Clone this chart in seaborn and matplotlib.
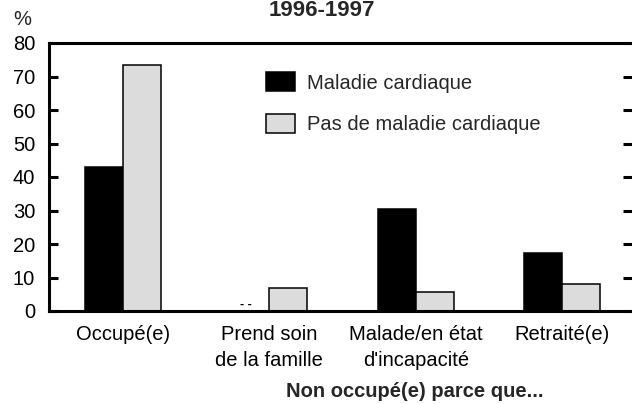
import numpy as np
import pandas as pd
import matplotlib
matplotlib.use("Agg")
import matplotlib.pyplot as plt
import seaborn as sns

# ---- data ----
categories = ["Occupé(e)", "Prend soin\nde la famille",
              "Malade/en état\nd'incapacité", "Retraité(e)"]
series_names = ["Maladie cardiaque", "Pas de maladie cardiaque"]
cardiac = [43.0, np.nan, 30.4, 17.3]
no_cardiac = [73.4, 6.9, 5.8, 8.0]
yticks = [0, 10, 20, 30, 40, 50, 60, 70, 80]
title = "1996-1997"
y_unit = "%"
x_title = "Non occupé(e) parce que..."
missing_mark = "- -"

# ---- style ----
sns.set_theme(style="white")
plt.rcParams['font.family'] = ['Liberation Sans', 'DejaVu Sans']
colors = ["black", "#dcdcdc"]
group_width = 0.52
fs = 14.5

df = pd.DataFrame({
    "cat": categories * 2,
    "series": [series_names[0]] * len(categories) + [series_names[1]] * len(categories),
    "value": cardiac + no_cardiac,
})

fig = plt.figure(figsize=(6.32, 4.04), dpi=100)
ax = fig.add_axes([49 / 632, 1 - 311 / 404, 583 / 632, 268 / 404])

sns.barplot(data=df, x="cat", y="value", hue="series", order=categories,
            hue_order=series_names, palette=colors, width=group_width,
            edgecolor="black", linewidth=1.1, saturation=1, errorbar=None, ax=ax)

ax.set_ylim(0, 80)
ax.set_xlim(-0.506, 3.478)
ax.set_yticks(yticks)
ax.set_ylabel("")
ax.set_xlabel("")

for s in ["top", "left", "bottom"]:
    ax.spines[s].set_linewidth(2.2)
    ax.spines[s].set_color("black")
ax.spines["right"].set_visible(False)

ax.tick_params(axis="y", direction="in", length=6.5, width=2.2, left=True,
               right=True, labelsize=fs, pad=10, colors="black")
ax.tick_params(axis="x", length=0, pad=10, labelsize=fs, colors="black")
for lbl in ax.get_xticklabels():
    lbl.set_linespacing(1.5)

# missing value mark
for i, v in enumerate(cardiac):
    if np.isnan(v):
        ax.text(i - group_width / 4 - 0.03, 1.8, missing_mark, ha="center",
                va="center", fontsize=9, fontweight="bold", color="black")

handles, labels = ax.get_legend_handles_labels()
ax.legend(handles, labels, frameon=False, loc="upper left",
          bbox_to_anchor=(266 / 632, 1 - 72 / 404), bbox_transform=fig.transFigure,
          borderpad=0, borderaxespad=0, handlelength=1.44, handleheight=1.1,
          handletextpad=0.6, labelspacing=1.05, fontsize=fs)

fig.text(322 / 632, 1 - 16.5 / 404, title, ha="center", va="baseline",
         fontsize=16, fontweight="bold")
fig.text(13 / 632, 1 - 25 / 404, y_unit, ha="left", va="baseline", fontsize=fs)
fig.text(415 / 632, 1 - 397 / 404, x_title, ha="center", va="baseline",
         fontsize=fs, fontweight="bold")

fig.savefig("out.png", dpi=100)
